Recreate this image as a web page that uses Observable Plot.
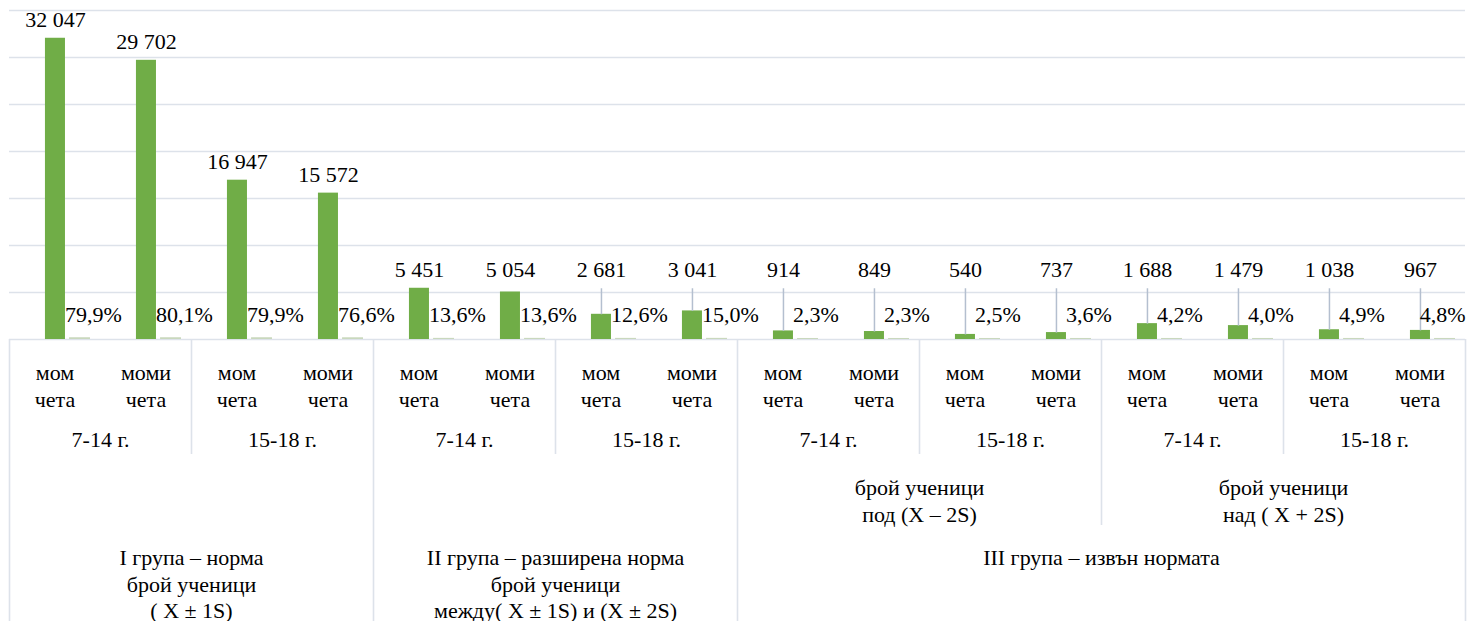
<!DOCTYPE html>
<html>
<head>
<meta charset="utf-8">
<script src="https://cdn.jsdelivr.net/npm/d3@7"></script>
<script src="https://cdn.jsdelivr.net/npm/@observablehq/plot@0.6"></script>
<style>
  html, body { margin: 0; padding: 0; background: #ffffff; }
  #chart svg { display: block; }
  #chart svg text { font-family: "Liberation Serif", "DejaVu Serif", Tinos, "Times New Roman", Times, serif !important; font-size: 22px; }
</style>
</head>
<body>
<div id="chart"></div>
<script>
// ---- data ----
const categories = [
  "мом\nчета", "моми\nчета", "мом\nчета", "моми\nчета",
  "мом\nчета", "моми\nчета", "мом\nчета", "моми\nчета",
  "мом\nчета", "моми\nчета", "мом\nчета", "моми\nчета",
  "мом\nчета", "моми\nчета", "мом\nчета", "моми\nчета"
];
const counts = [32047, 29702, 16947, 15572, 5451, 5054, 2681, 3041, 914, 849, 540, 737, 1688, 1479, 1038, 967];
const percents = [79.9, 80.1, 79.9, 76.6, 13.6, 13.6, 12.6, 15.0, 2.3, 2.3, 2.5, 3.6, 4.2, 4.0, 4.9, 4.8];
const ageGroups = ["7-14 г.", "15-18 г.", "7-14 г.", "15-18 г.", "7-14 г.", "15-18 г.", "7-14 г.", "15-18 г."];
const subGroups = ["", "", "брой ученици\nпод (X – 2S)", "брой ученици\nнад ( X + 2S)"];
const mainGroups = [
  "I група – норма\nброй ученици\n( X ± 1S)",
  "II група – разширена норма\nброй ученици\nмежду( X ± 1S) и (X ± 2S)",
  "III група – извън нормата"
];
const mainGroupSizes = [4, 4, 8];
const yTicks = [0, 5000, 10000, 15000, 20000, 25000, 30000, 35000];

// ---- derived tables ----
const data = counts.map((c, i) => ({i, cat: categories[i], count: c, pct: percents[i]}));
const ageData = ageGroups.map((a, k) => ({label: a, start: 2 * k, end: 2 * k + 2}));
const subData = subGroups.map((s, k) => ({label: s, start: 4 * k, end: 4 * k + 4})).filter(d => d.label);
let acc = 0;
const mainData = mainGroups.map((g, k) => { const s = acc; acc += mainGroupSizes[k]; return {label: g, start: s, end: acc}; });

const mainBounds = [0, ...mainData.map(d => d.end)];
const subBounds = subData.map(d => d.start).filter(b => !mainBounds.includes(b));
const ageBounds = ageData.map(d => d.start).filter(b => !mainBounds.includes(b) && !subBounds.includes(b));

const fmtCount = d3.format(",");
const countLabel = v => fmtCount(v).replace(/,/g, " ");
const pctLabel = v => v.toFixed(1).replace(".", ",") + "%";
const LABEL_FLOOR = 5451;

const grid = "#dde2ea";
const green = "#70ad47";
const serif = "'Liberation Serif', 'DejaVu Serif', serif";

const chart = Plot.plot({
  width: 1468,
  height: 621,
  marginTop: 10,
  marginBottom: 282,
  marginLeft: 9,
  marginRight: 3,
  style: {fontSize: "22px", background: "#ffffff", color: "#000"},
  x: {type: "linear", domain: [0, categories.length], axis: null},
  y: {domain: [0, 35000], axis: null},
  marks: [
    Plot.ruleY(yTicks, {stroke: grid, strokeWidth: 1.6}),
    Plot.ruleX(mainBounds, {x: d => d, y1: 0, y2: 0, insetBottom: -282, stroke: grid, strokeWidth: 1.6}),
    Plot.ruleX(subBounds, {x: d => d, y1: 0, y2: 0, insetBottom: -186, stroke: grid, strokeWidth: 1.6}),
    Plot.ruleX(ageBounds, {x: d => d, y1: 0, y2: 0, insetBottom: -115, stroke: grid, strokeWidth: 1.6}),
    Plot.rectY(data, {x1: d => d.i + 0.66, x2: d => d.i + 0.89, y1: 0, y2: "pct", fill: "#c9d8bd", insetTop: -1}),
    Plot.rectY(data, {x1: d => d.i + 0.395, x2: d => d.i + 0.615, y1: 0, y2: "count", fill: green}),
    Plot.link(data.filter(d => d.count < 5000), {
      x1: d => d.i + 0.505, x2: d => d.i + 0.505,
      y1: "count", y2: () => LABEL_FLOOR,
      stroke: "#b4bfcf", strokeWidth: 1.5
    }),
    Plot.text(data, {
      x: d => d.i + 0.505, y: d => Math.max(d.count, LABEL_FLOOR),
      text: d => countLabel(d.count), dy: -18, fill: "#000"
    }),
    Plot.text(data.filter(d => d.i < categories.length - 1), {
      x: d => d.i + 0.61, y: 0, text: d => pctLabel(d.pct),
      textAnchor: "start", dy: -25, fill: "#000"
    }),
    Plot.text(data.filter(d => d.i === categories.length - 1), {
      x: d => d.i + 1, y: 0, text: d => pctLabel(d.pct),
      textAnchor: "end", dy: -25, fill: "#000"
    }),
    Plot.text(data, {
      x: d => d.i + 0.5, text: "cat", frameAnchor: "bottom",
      lineAnchor: "top", lineHeight: 1.2, dy: 22, fill: "#000"
    }),
    Plot.text(ageData, {
      x: d => (d.start + d.end) / 2, text: "label", frameAnchor: "bottom",
      lineAnchor: "top", dy: 92, fill: "#000"
    }),
    Plot.text(subData, {
      x: d => (d.start + d.end) / 2, text: "label", frameAnchor: "bottom",
      lineAnchor: "top", lineHeight: 1.2, dy: 137, fill: "#000"
    }),
    Plot.text(mainData, {
      x: d => (d.start + d.end) / 2, text: "label", frameAnchor: "bottom",
      lineAnchor: "top", lineHeight: 1.2, dy: 207, fill: "#000"
    })
  ]
});
chart.querySelectorAll("text").forEach(t => t.setAttribute("font-family", serif));
document.getElementById("chart").appendChild(chart);
</script>
</body>
</html>
